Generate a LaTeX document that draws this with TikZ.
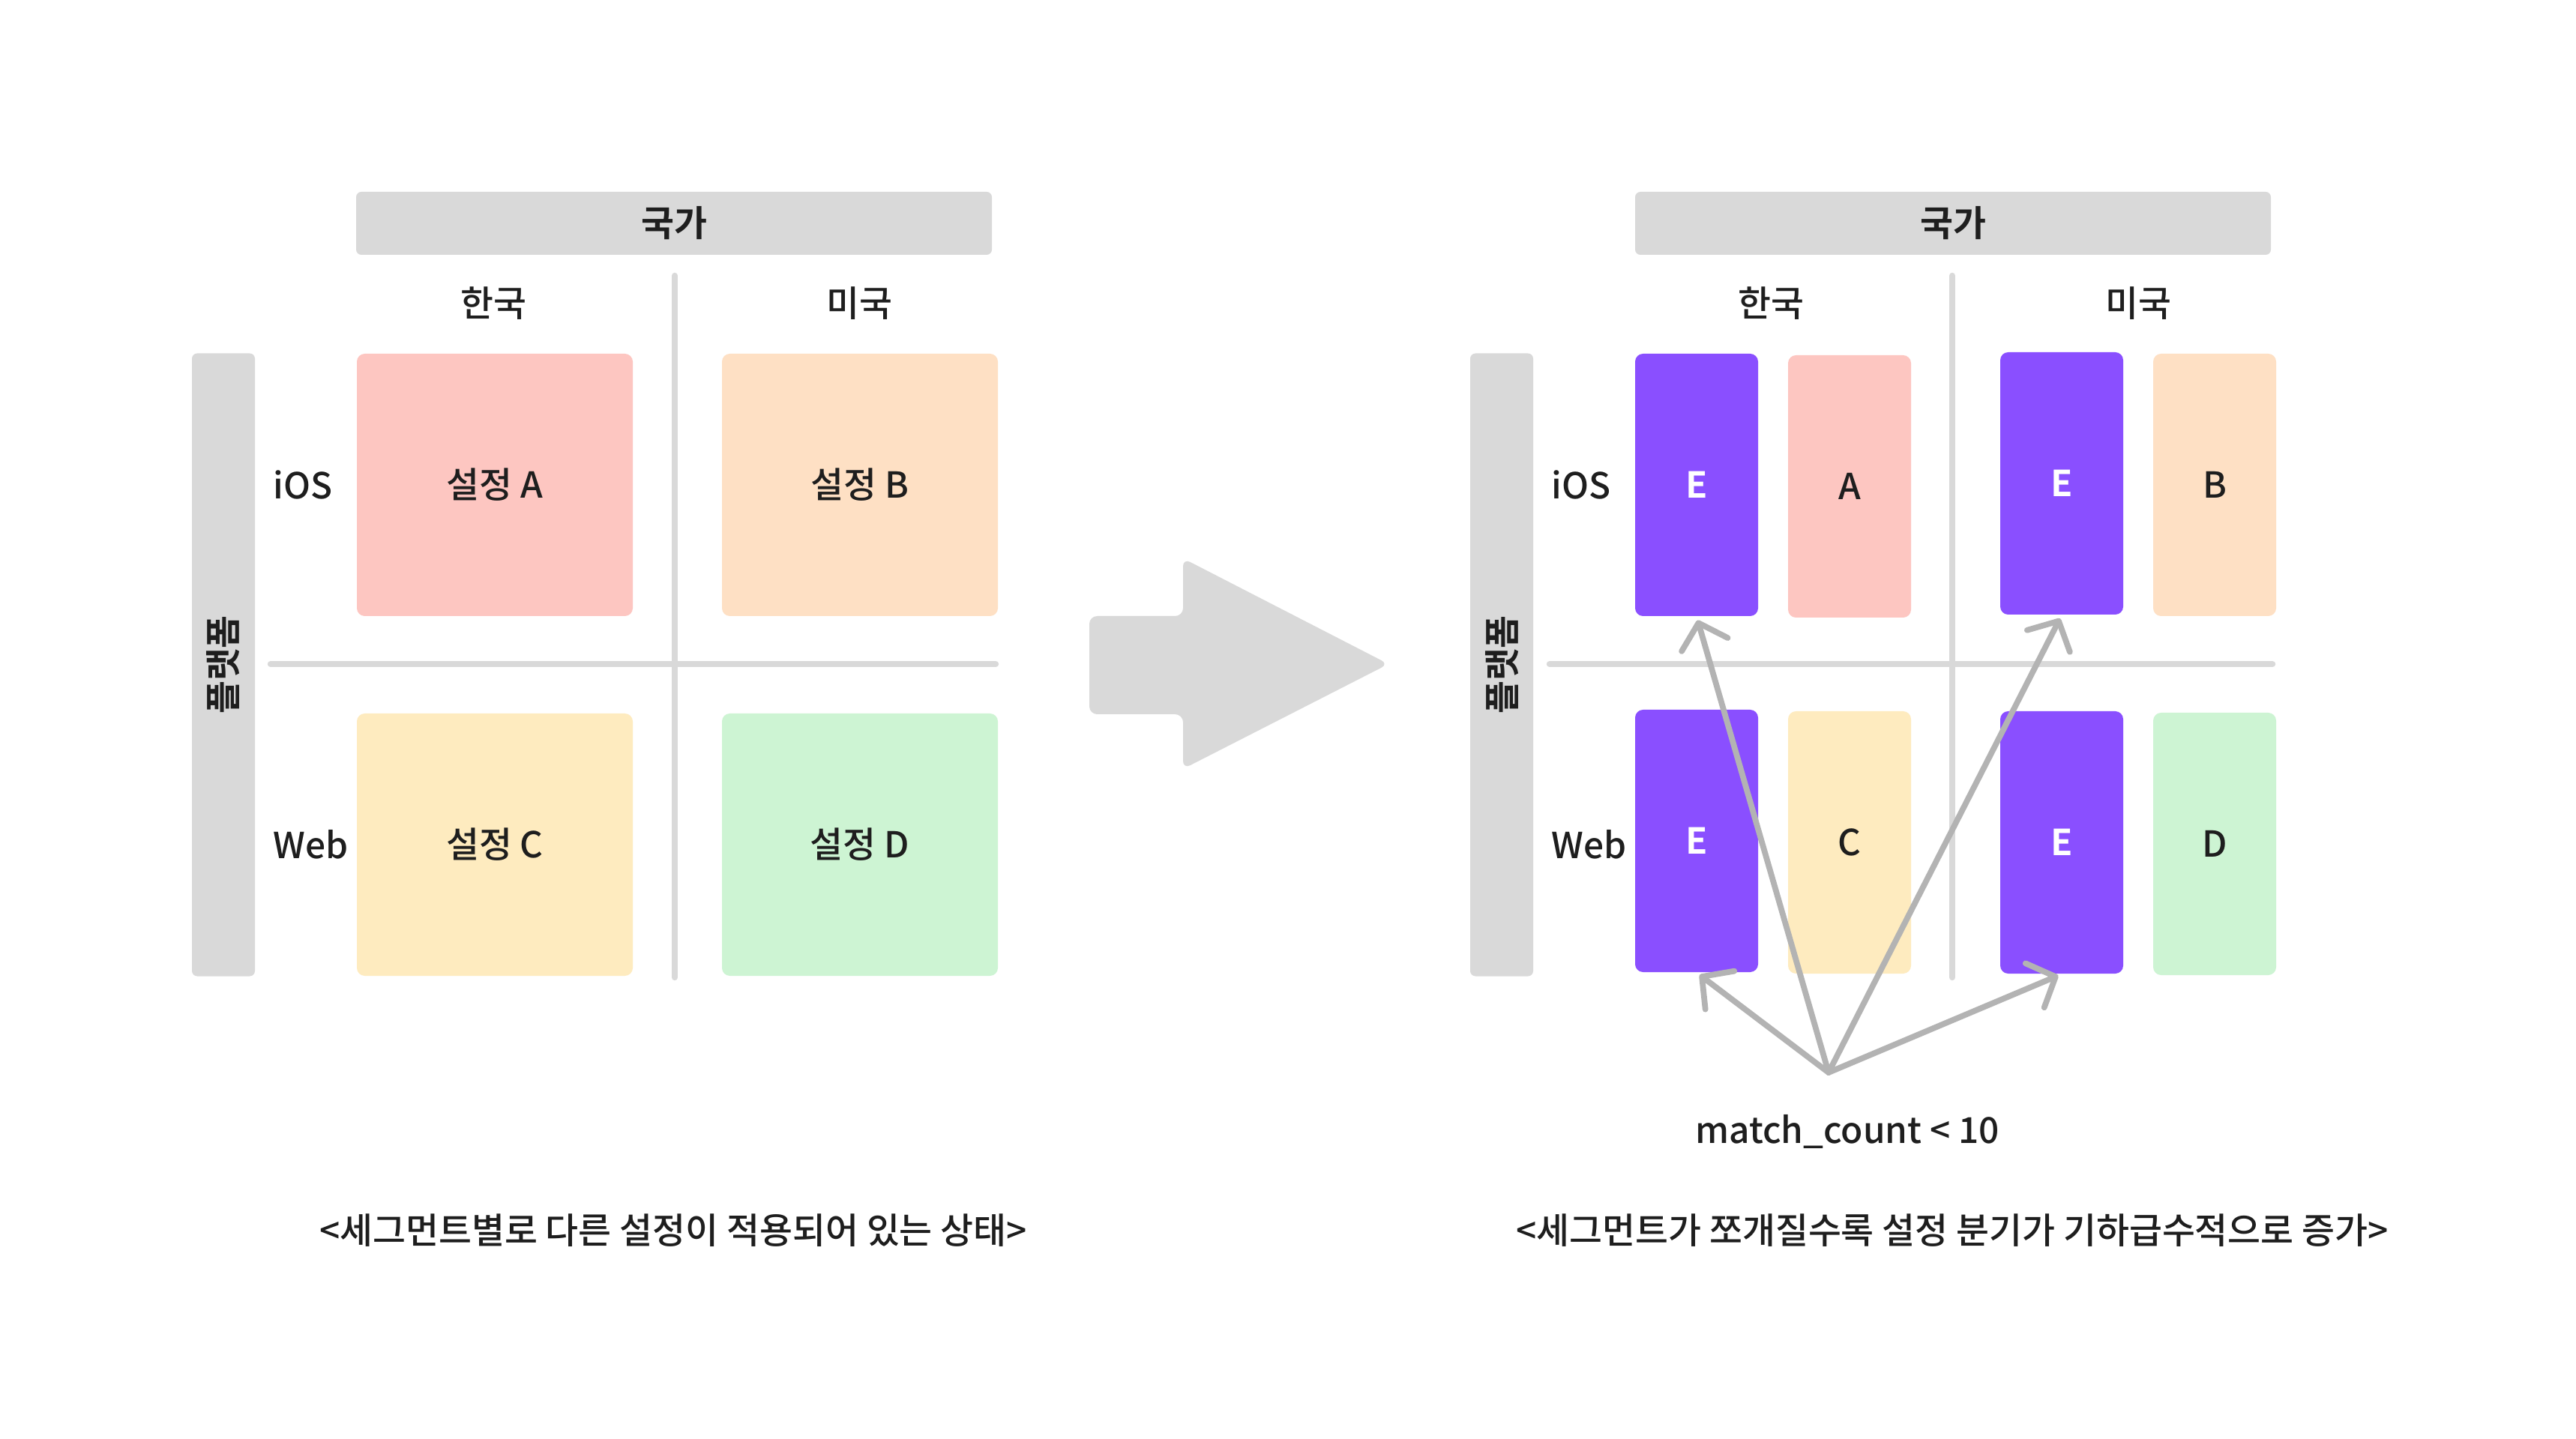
\documentclass[tikz,border=0pt]{standalone}
\usepackage{fontspec}
\setmainfont{Noto Sans CJK KR}[UprightFont={* Medium},BoldFont={* Bold}]
\usetikzlibrary{arrows.meta,positioning}
\definecolor{barGray}{HTML}{D9D9D9}
\definecolor{lineGray}{HTML}{B3B3B3}
\definecolor{ink}{HTML}{1E1E1E}
\definecolor{setA}{HTML}{FDC6C1}
\definecolor{setB}{HTML}{FEE0C4}
\definecolor{setC}{HTML}{FEEBBF}
\definecolor{setD}{HTML}{CDF4D3}
\definecolor{setE}{HTML}{8A4FFF}

\begin{document}
\begin{tikzpicture}[
  every node/.style={font=\fontsize{13.6}{16}\selectfont,text=ink},
  header/.style={fill=barGray,rounded corners=2pt,minimum width=8.48cm,minimum height=0.84cm,font=\fontsize{13.6}{16}\selectfont\bfseries},
  side/.style={fill=barGray,rounded corners=2pt,rotate=90,minimum width=8.31cm,minimum height=0.84cm,font=\fontsize{13.6}{16}\selectfont\bfseries},
  cell/.style={rounded corners=3pt,minimum width=3.68cm,minimum height=3.5cm},
  slim/.style={rounded corners=3pt,minimum width=1.64cm,minimum height=3.5cm},
  ebox/.style={slim,fill=setE,text=white,font=\fontsize{13.6}{16}\selectfont\bfseries},
  rowlabel/.style={anchor=west,inner sep=0pt},
  divider/.style={barGray,line width=2.4pt,line cap=round},
  conn/.style={lineGray,line width=2.2pt,line cap=round,shorten >=0.5mm,-{Straight Barb[length=3mm,width=6.4mm,round]}}
]
% \draw[help lines] (0,0) grid (34,19);
\useasboundingbox[fill=white] (0,0) rectangle (34.36,19.19);
%
% left: one setting per segment
\draw[divider] (9.00,15.51) -- (9.00,6.15);
\draw[divider] (3.61,10.33) -- (13.28,10.33);
\node (nation1) [header] at (8.99,16.21) {국가};
\node (platform1) [side] at (2.98,10.32) {플랫폼};
\node (kr1) at (6.58,15.14) {한국};
\node (us1) at (11.46,15.14) {미국};
\node (ios1) [rowlabel] at (3.64,12.72) {iOS};
\node (web1) [rowlabel] at (3.64,7.92) {Web};
\node (setA) [cell,fill=setA] at (6.60,12.72) {설정 A};
\node (setB) [cell,fill=setB] at (11.47,12.72) {설정 B};
\node (setC) [cell,fill=setC] at (6.60,7.92) {설정 C};
\node (setD) [cell,fill=setD] at (11.47,7.92) {설정 D};
\node (cap1) at (8.98,2.77) {<세그먼트별로 다른 설정이 적용되어 있는 상태>};
%
% big arrow
\fill[barGray,rounded corners=3pt] (14.53,10.97) -- (15.78,10.97) -- (15.78,11.74) -- (18.52,10.33)
  -- (15.78,8.93) -- (15.78,9.66) -- (14.53,9.66) -- cycle;
%
% right: segments split by E
\draw[divider] (26.04,15.51) -- (26.04,6.15);
\draw[divider] (20.67,10.33) -- (30.31,10.33);
\node (nation2) [header] at (26.05,16.21) {국가};
\node (platform2) [side] at (20.03,10.32) {플랫폼};
\node (kr2) at (23.62,15.14) {한국};
\node (us2) at (28.52,15.14) {미국};
\node (ios2) [rowlabel] at (20.69,12.72) {iOS};
\node (web2) [rowlabel] at (20.69,7.92) {Web};
\node (e1) [ebox] at (22.63,12.72) {E};
\node (a2) [slim,fill=setA] at (24.67,12.70) {A};
\node (e2) [ebox] at (27.50,12.74) {E};
\node (b2) [slim,fill=setB] at (29.54,12.72) {B};
\node (e3) [ebox] at (22.63,7.97) {E};
\node (c2) [slim,fill=setC] at (24.67,7.95) {C};
\node (e4) [ebox] at (27.50,7.95) {E};
\node (d2) [slim,fill=setD] at (29.54,7.93) {D};
\node (cond) at (24.64,4.09) {match\_count < 10};
\coordinate (src) at (24.39,4.88);
\node (cap2) at (26.04,2.77) {<세그먼트가 쪼개질수록 설정 분기가 기하급수적으로 증가>};
%
\path[conn] (src) edge (e1.south);
\path[conn] (src) edge (e2.south);
\path[conn] (src) edge (e3.south);
\path[conn] (src) edge (e4.south);
%
\end{tikzpicture}
\end{document}
